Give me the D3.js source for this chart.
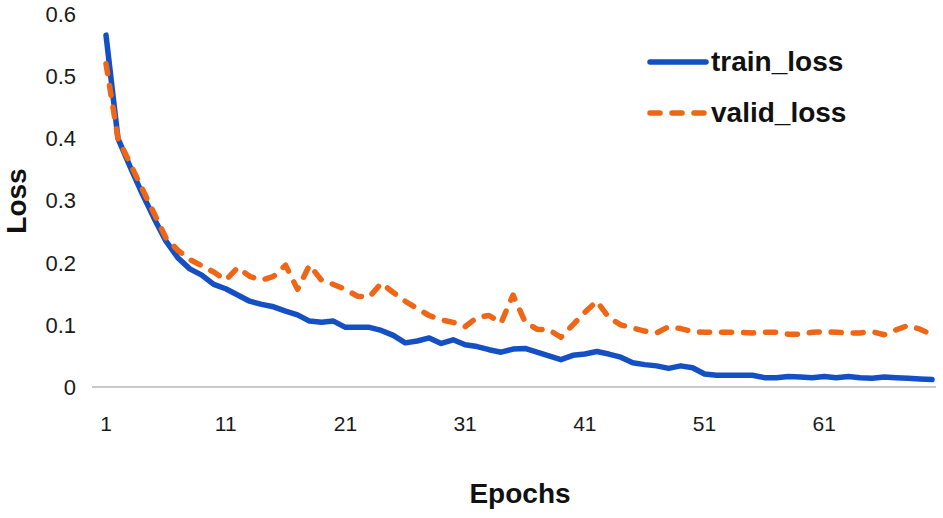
<!DOCTYPE html>
<html>
<head>
<meta charset="utf-8">
<script src="https://cdn.jsdelivr.net/npm/d3@7"></script>
<style>
  body { margin: 0; background: #fff; }
  svg { display: block; }
</style>
</head>
<body>
<svg id="chart" width="943" height="518"></svg>
<script>
// epochs 1..70
var epochs = d3.range(1, 71);

var trainLoss = [
  0.566, 0.400, 0.355, 0.312, 0.272, 0.235, 0.208, 0.190, 0.180, 0.165,
  0.158, 0.148, 0.138, 0.133, 0.129, 0.122, 0.116, 0.106, 0.104, 0.106,
  0.096, 0.096, 0.096, 0.091, 0.083, 0.071, 0.074, 0.079, 0.070, 0.076,
  0.068, 0.065, 0.060, 0.056, 0.061, 0.062, 0.056, 0.050, 0.044, 0.051,
  0.053, 0.057, 0.053, 0.048, 0.039, 0.036, 0.034, 0.030, 0.034, 0.031,
  0.021, 0.019, 0.019, 0.019, 0.019, 0.015, 0.015, 0.017, 0.016, 0.015,
  0.017, 0.015, 0.017, 0.015, 0.014, 0.016, 0.015, 0.014, 0.013, 0.012
];

var validLoss = [
  0.520, 0.400, 0.360, 0.320, 0.280, 0.240, 0.220, 0.205, 0.195, 0.185,
  0.172, 0.192, 0.178, 0.172, 0.178, 0.196, 0.157, 0.196, 0.172, 0.165,
  0.157, 0.146, 0.145, 0.167, 0.152, 0.138, 0.126, 0.115, 0.108, 0.104,
  0.097, 0.112, 0.115, 0.103, 0.148, 0.105, 0.093, 0.092, 0.080, 0.100,
  0.120, 0.138, 0.112, 0.100, 0.095, 0.090, 0.087, 0.097, 0.094, 0.089,
  0.088, 0.088, 0.088, 0.088, 0.087, 0.088, 0.088, 0.085, 0.085, 0.088,
  0.089, 0.088, 0.087, 0.087, 0.089, 0.084, 0.092, 0.099, 0.093, 0.084
];

var xTicks = [1, 11, 21, 31, 41, 51, 61];
var yTicks = [0, 0.1, 0.2, 0.3, 0.4, 0.5, 0.6];
var seriesNames = ["train_loss", "valid_loss"];

var blue = "#1450c4";
var orange = "#ee6616";

var svg = d3.select("#chart");

var x = d3.scaleLinear().domain([1, 70]).range([106, 932]);
var y = d3.scaleLinear().domain([0, 0.6]).range([387, 14]);

// baseline
svg.append("line")
  .attr("x1", 92).attr("x2", 936)
  .attr("y1", y(0)).attr("y2", y(0))
  .attr("stroke", "#c9c9c9").attr("stroke-width", 2);

// y tick labels
svg.append("g").selectAll("text")
  .data(yTicks).enter().append("text")
  .attr("x", 76)
  .attr("y", function(d){ return y(d); })
  .attr("dy", "0.36em")
  .attr("text-anchor", "end")
  .attr("font-family", "Liberation Sans, Arial, sans-serif")
  .attr("font-size", 22)
  .attr("fill", "#1a1a1a")
  .text(function(d){ return d === 0 ? "0" : d3.format(".1f")(d); });

// x tick labels
svg.append("g").selectAll("text")
  .data(xTicks).enter().append("text")
  .attr("x", function(d){ return x(d); })
  .attr("y", 423)
  .attr("dy", "0.36em")
  .attr("text-anchor", "middle")
  .attr("font-family", "Liberation Sans Narrow, Liberation Sans, Arial, sans-serif")
  .attr("font-size", 21)
  .attr("fill", "#1a1a1a")
  .text(function(d){ return d; });

// axis titles
svg.append("text")
  .attr("x", 520).attr("y", 503)
  .attr("text-anchor", "middle")
  .attr("font-family", "Liberation Sans, Arial, sans-serif")
  .attr("font-weight", "bold")
  .attr("font-size", 28)
  .attr("fill", "#111")
  .text("Epochs");

svg.append("text")
  .attr("transform", "translate(26,201) rotate(-90)")
  .attr("text-anchor", "middle")
  .attr("font-family", "Liberation Sans, Arial, sans-serif")
  .attr("font-weight", "bold")
  .attr("font-size", 28)
  .attr("fill", "#111")
  .text("Loss");

var line = d3.line()
  .x(function(d, i){ return x(epochs[i]); })
  .y(function(d){ return y(d); });

svg.append("path")
  .datum(trainLoss)
  .attr("d", line)
  .attr("fill", "none")
  .attr("stroke", blue)
  .attr("stroke-width", 5.5)
  .attr("stroke-linejoin", "round")
  .attr("stroke-linecap", "round");

svg.append("path")
  .datum(validLoss)
  .attr("d", line)
  .attr("fill", "none")
  .attr("stroke", orange)
  .attr("stroke-width", 5.5)
  .attr("stroke-dasharray", "10,12")
  .attr("stroke-linejoin", "round")
  .attr("stroke-linecap", "round");

// legend
var legend = svg.append("g").selectAll("g")
  .data(seriesNames).enter().append("g")
  .attr("transform", function(d, i){ return "translate(0," + (62 + i * 51) + ")"; });

legend.append("line")
  .attr("x1", 650).attr("x2", 706)
  .attr("y1", 0).attr("y2", 0)
  .attr("stroke", function(d, i){ return i === 0 ? blue : orange; })
  .attr("stroke-width", 5.5)
  .attr("stroke-linecap", "round")
  .attr("stroke-dasharray", function(d, i){ return i === 0 ? null : "10,12"; });

legend.append("text")
  .attr("x", 711).attr("y", 0)
  .attr("dy", "0.32em")
  .attr("font-family", "Liberation Sans, Arial, sans-serif")
  .attr("font-weight", "bold")
  .attr("font-size", 28)
  .attr("fill", "#111")
  .text(function(d){ return d; });
</script>
</body>
</html>
